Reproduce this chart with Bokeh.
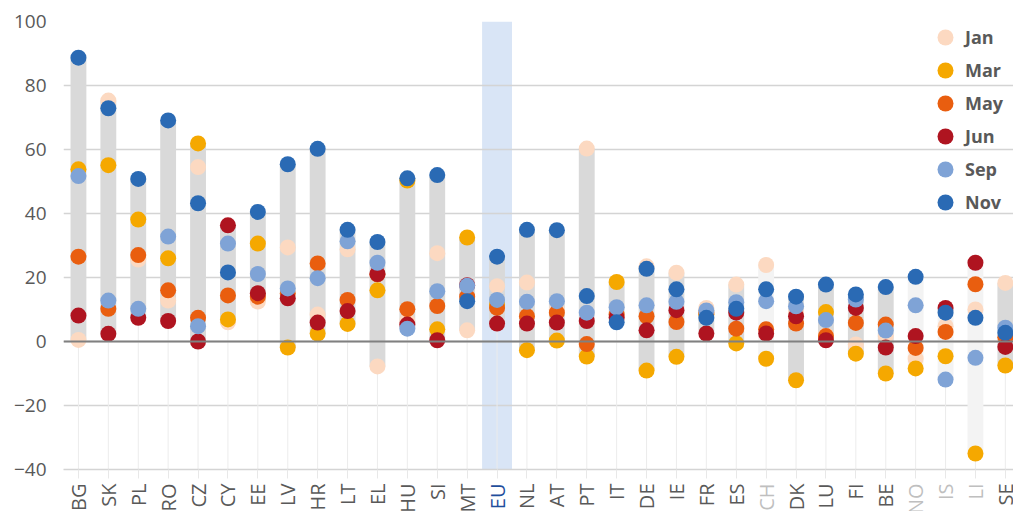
import math
import numpy as np
from bokeh.plotting import figure
from bokeh.models import (FixedTicker, Legend, LegendItem, Span, BoxAnnotation, Label)
from bokeh.embed import file_html
from bokeh.resources import INLINE

countries = ["BG", "SK", "PL", "RO", "CZ", "CY", "EE", "LV", "HR", "LT", "EL", "HU", "SI", "MT",
             "EU", "NL", "AT", "PT", "IT", "DE", "IE", "FR", "ES", "CH", "DK", "LU", "FI", "BE",
             "NO", "IS", "LI", "SE"]
non_eea = ["CH", "NO", "IS", "LI"]
highlight = "EU"

jan = [0.5, 75.3, 25.6, 12.8, 54.5, 6.0, 12.5, 29.4, 8.4, 28.8, -7.8, 6.4, 27.6, 3.5,
       17.3, 18.4, 10.0, 60.3, 8.0, 23.5, 21.5, 10.5, 17.8, 23.9, 9.0, 2.0, -0.9, 1.7,
       -5.4, 4.8, 10.0, 18.3]
mar = [53.8, 55.1, 38.1, 26.0, 61.9, 6.9, 30.6, -1.9, 2.5, 5.5, 16.0, 50.3, 3.8, 32.5,
       11.5, -2.7, 0.3, -4.7, 18.6, -9.1, -4.8, 8.5, -0.6, -5.4, -12.1, 9.2, -3.8, -10.0,
       -8.4, -4.6, -35.0, -7.5]
may = [26.5, 10.2, 27.0, 16.0, 7.4, 14.4, 14.0, 15.0, 24.4, 13.0, 21.0, 10.1, 11.1, 14.0,
       10.5, 7.9, 9.0, -0.8, 8.4, 7.9, 6.1, 9.0, 4.0, 3.8, 5.6, 1.7, 5.8, 5.3,
       -2.0, 3.0, 17.9, 1.3]
jun = [8.1, 2.4, 7.4, 6.4, 0.0, 36.3, 15.1, 13.5, 5.9, 9.5, 21.1, 5.3, 0.4, 17.6,
       5.6, 5.6, 5.9, 6.4, 7.5, 3.5, 9.8, 2.5, 9.0, 2.5, 7.9, 0.4, 10.5, -1.9,
       1.7, 10.5, 24.6, -1.7]
sep = [51.7, 12.8, 10.2, 32.8, 4.8, 30.6, 21.1, 16.6, 19.8, 31.3, 24.6, 4.0, 15.7, 17.4,
       13.0, 12.4, 12.6, 9.0, 10.7, 11.3, 12.4, 9.7, 12.3, 12.6, 11.0, 6.7, 13.1, 3.4,
       11.3, -11.9, -5.1, 4.3]
nov = [88.7, 72.9, 50.8, 69.1, 43.2, 21.6, 40.5, 55.4, 60.2, 34.9, 31.1, 51.0, 52.0, 12.6,
       26.5, 34.9, 34.8, 14.2, 6.0, 22.7, 16.3, 7.4, 10.2, 16.3, 14.0, 17.8, 14.7, 17.0,
       20.2, 9.0, 7.4, 2.7]

series_names = ["Jan", "Mar", "May", "Jun", "Sep", "Nov"]
series_values = [jan, mar, may, jun, sep, nov]
series_colors = ["#fcd9c1", "#f5a800", "#e95e0f", "#af1420", "#7fa3d6", "#2a6ab4"]

y_ticks = [-40, -20, 0, 20, 40, 60, 80, 100]

FONT = "Open Sans"
TXT = "#595959"
X_FS = "20px"
TICK_OUT, STANDOFF = 9, 5

n = len(countries)
xs = list(range(n))
vals = np.array(series_values)
lo = vals.min(axis=0)
hi = vals.max(axis=0)

FW, FH = 950, 448
p = figure(frame_width=FW, frame_height=FH, output_backend="svg", toolbar_location=None,
           x_range=(-0.5, -0.5 + FW / 29.9), y_range=(y_ticks[0], y_ticks[-1]),
           min_border_left=63, min_border_right=0, min_border_top=21, min_border_bottom=41)
p.outline_line_color = None
p.background_fill_color = "white"

# EU highlight band
eu_i = countries.index(highlight)
p.add_layout(BoxAnnotation(left=eu_i - 0.5, right=eu_i + 0.5, fill_color="#d9e5f6",
                           fill_alpha=1, line_color=None, level="image"))

# grids
p.xgrid.visible = False
p.ygrid.ticker = FixedTicker(ticks=y_ticks)
p.ygrid.grid_line_color = "#d4d4d4"
p.ygrid.grid_line_width = 1.5

# drop lines from the axis to each bar
p.segment(x0=xs, y0=[y_ticks[0]] * n, x1=xs, y1=lo.tolist(), line_color="#ececec", line_width=1)

p.add_layout(Span(location=0, dimension="width", line_color="#808080", line_width=2))

bar_colors = ["#f3f3f3" if c in non_eea else "#d9d9d9" for c in countries]
p.vbar(x=xs, bottom=lo.tolist(), top=hi.tolist(), width=0.53, fill_color=bar_colors,
       line_color=None)

for k, (name, v, col) in enumerate(zip(series_names, series_values, series_colors)):
    r = p.scatter(x=xs, y=v, size=16, fill_color=col, line_color=None)
    lg = Legend(items=[LegendItem(label=name, renderers=[r])],
                location=(862, FH + 4 - 33 * k - 40), glyph_width=40, glyph_height=40,
                spacing=0, padding=0, margin=0, label_standoff=-4,
                label_text_font=FONT, label_text_font_style="bold",
                label_text_font_size="18px", label_text_color=TXT,
                border_line_color=None, background_fill_alpha=0)
    p.add_layout(lg)

# y axis
p.yaxis.ticker = FixedTicker(ticks=y_ticks)
p.yaxis.major_label_overrides = {t: (str(t).replace("-", "\u2212")) for t in y_ticks}
p.yaxis.axis_line_color = None
p.yaxis.major_tick_line_color = None
p.yaxis.minor_tick_line_color = None
p.yaxis.major_label_text_font = FONT
p.yaxis.major_label_text_font_size = "19px"
p.yaxis.major_label_text_color = TXT
p.yaxis.major_label_standoff = 11

# main x axis
special = non_eea + [highlight]
p.xaxis.ticker = FixedTicker(ticks=xs)
p.xaxis.major_label_overrides = {i: ("" if c in special else c) for i, c in enumerate(countries)}
p.xaxis.major_label_orientation = math.pi / 2
p.xaxis.axis_line_color = "#d4d4d4"
p.xaxis.axis_line_width = 1.5
p.xaxis.major_tick_line_color = "#e8e8e8"
p.xaxis.major_tick_out = TICK_OUT
p.xaxis.major_tick_in = 0
p.xaxis.minor_tick_line_color = None
p.xaxis.major_label_text_font = FONT
p.xaxis.major_label_text_font_size = X_FS
p.xaxis.major_label_text_color = TXT
p.xaxis.major_label_standoff = STANDOFF

# coloured tick labels (EU and non-EEA countries), same row as the axis labels.
# Placed in a side panel so they are not clipped to the plot frame.
for c in special:
    p.add_layout(Label(x=countries.index(c), y=-(TICK_OUT + STANDOFF), y_units="screen",
                       text=c, angle=math.pi / 2, text_align="right",
                       text_baseline="middle", text_font=FONT, text_font_size=X_FS,
                       text_color="#1f4e9c" if c == highlight else "#bfbfbf"), "right")

open("out.html", "w").write(file_html(p, INLINE))
